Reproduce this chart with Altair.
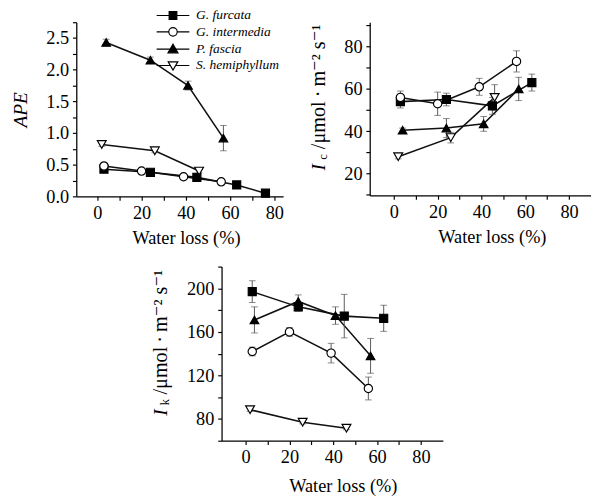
import altair as alt
import pandas as pd

FONT = "'Liberation Serif', 'Times New Roman', Times, 'DejaVu Serif', serif"

species = ["G. furcata", "G. intermedia", "P. fascia", "S. hemiphyllum"]

# Water loss (%) of each sampling point
wl_furcata = [3, 24, 45, 63, 76]
wl_intermedia = [3, 20, 39, 56]
wl_fascia = [4, 24, 41, 57]
wl_hemiphyllum = [2, 26, 46]

# Panel 1: APE
ape_furcata = [0.43, 0.38, 0.30, 0.18, 0.05]
ape_intermedia = [0.48, 0.40, 0.31, 0.23]
ape_fascia = [2.43, 2.15, 1.75, 0.92]
ape_hemiphyllum = [0.82, 0.72, 0.40]
ape_err_furcata = [0.02, 0.02, 0.02, 0.02, 0.02]
ape_err_intermedia = [0.02, 0.02, 0.02, 0.02]
ape_err_fascia = [0.05, 0.05, 0.07, 0.20]
ape_err_hemiphyllum = [0.03, 0.03, 0.03]

# Panel 2: Ic
ic_furcata = [54, 55, 52, 63]
ic_intermedia = [56, 53, 61, 73]
ic_fascia = [40.5, 41.5, 43.5, 60]
ic_hemiphyllum = [28, 37, 56]
ic_err_furcata = [3, 3, 4, 4]
ic_err_intermedia = [3, 5.5, 4, 5]
ic_err_fascia = [1, 4.5, 3.5, 5.5]
ic_err_hemiphyllum = [1, 2.5, 6]

# Panel 3: Ik
ik_furcata = [197, 183, 174.5, 172.5]
ik_intermedia = [142, 160, 140.5, 108]
ik_fascia = [171, 188, 175, 138]
ik_hemiphyllum = [88.5, 77, 71.5]
ik_err_furcata = [10, 4, 20, 12]
ik_err_intermedia = [4, 4, 9, 10.5]
ik_err_fascia = [12, 6, 8, 16]
ik_err_hemiphyllum = [1.5, 1.5, 1.5]

x_ticks = [0, 10, 20, 30, 40, 50, 60, 70, 80]
ape_ticks = [0, 0.25, 0.5, 0.75, 1.0, 1.25, 1.5, 1.75, 2.0, 2.25, 2.5, 2.75]
ic_ticks = [10, 20, 30, 40, 50, 60, 70, 80, 90]
ik_ticks = [60, 80, 100, 120, 140, 160, 180, 200, 220]

x_title = "Water loss (%)"
unit_title = "/\u03bcmol\u2009\u00b7\u2009m\u207b\u00b2 s\u207b\u00b9"


def build(ys, errs):
    xs = [wl_furcata, wl_intermedia, wl_fascia, wl_hemiphyllum]
    rows = []
    for sp, xv, yv, ev in zip(species, xs, ys, errs):
        for i in range(len(yv)):
            rows.append({"species": sp, "x": xv[i], "y": yv[i],
                         "lo": yv[i] - ev[i], "hi": yv[i] + ev[i]})
    return pd.DataFrame(rows)


df_ape = build([ape_furcata, ape_intermedia, ape_fascia, ape_hemiphyllum],
               [ape_err_furcata, ape_err_intermedia, ape_err_fascia, ape_err_hemiphyllum])
df_ic = build([ic_furcata, ic_intermedia, ic_fascia, ic_hemiphyllum],
              [ic_err_furcata, ic_err_intermedia, ic_err_fascia, ic_err_hemiphyllum])
df_ik = build([ik_furcata, ik_intermedia, ik_fascia, ik_hemiphyllum],
              [ik_err_furcata, ik_err_intermedia, ik_err_fascia, ik_err_hemiphyllum])

shape_scale = alt.Scale(domain=species, range=["square", "circle", "triangle-up", "triangle-down"])
fill_scale = alt.Scale(domain=species, range=["black", "white", "black", "white"])
size_scale = alt.Scale(domain=species, range=[70, 85, 130, 110])

legend_paths = [
    "M-4.25,0H-1M1,0H4.25M-1,-1H1V1H-1Z",
    "M-4.25,0H-1.1M1.1,0H4.25M-1.1,0A1.1,1.1,0,1,0,1.1,0A1.1,1.1,0,1,0,-1.1,0Z",
    "M-4.25,0H4.25M-1.3,0.95L1.3,0.95L0,-1.3Z",
    "M-4.25,0H-0.7M0.7,0H4.25M-1.25,-0.95L1.25,-0.95L0,1.2Z",
]


def panel(df, xdom, ydom, yticks, ylabel_expr, title_x, x_title_pad=7, ytitle=None, ytitle_opts=None):
    xsc = alt.Scale(domain=xdom, nice=False, zero=False)
    ysc = alt.Scale(domain=ydom, nice=False, zero=False)
    xaxis = alt.Axis(values=x_ticks, labelExpr="datum.value % 20 == 0 ? datum.label : ''",
                     labelOverlap=False, labelPadding=4,
                     title=x_title, titleX=title_x, titlePadding=x_title_pad)
    yaxis_kw = dict(values=yticks, labelExpr=ylabel_expr, title=ytitle, labelOverlap=False)
    if ytitle_opts:
        yaxis_kw.update(ytitle_opts)
    yaxis = alt.Axis(**yaxis_kw)

    def X():
        return alt.X("x:Q", scale=xsc, axis=xaxis)

    def Y(field):
        return alt.Y(field + ":Q", scale=ysc, axis=yaxis)

    base = alt.Chart(df)
    line = base.mark_line(color="#111111", strokeWidth=1.6).encode(x=X(), y=Y("y"), detail="species:N")
    rule = base.mark_rule(color="#555555", strokeWidth=1).encode(x=X(), y=Y("lo"), y2="hi:Q")
    cap_lo = base.mark_tick(orient="horizontal", size=7, thickness=1, color="#555555").encode(
        x=X(), y=Y("lo"))
    cap_hi = base.mark_tick(orient="horizontal", size=7, thickness=1, color="#555555").encode(
        x=X(), y=Y("hi"))
    pts = base.mark_point(filled=True, stroke="black", strokeWidth=1.2, opacity=1).encode(
        x=X(), y=Y("y"),
        shape=alt.Shape("species:N", scale=shape_scale, legend=None),
        fill=alt.Fill("species:N", scale=fill_scale, legend=None),
        size=alt.Size("species:N", scale=size_scale, legend=None),
    )
    return [line, rule, cap_lo, cap_hi, pts], X, Y


def ytitle_layers(sub, x0, y0, unit_size):
    t_i = alt.Chart(pd.DataFrame({"t": ["I"]})).mark_text(
        font=FONT, fontSize=20, fontStyle="italic", angle=270, align="left", baseline="middle",
        color="black").encode(text="t:N", x=alt.value(x0), y=alt.value(y0))
    t_s = alt.Chart(pd.DataFrame({"t": [sub]})).mark_text(
        font=FONT, fontSize=13, angle=270, align="left", baseline="middle",
        color="black").encode(text="t:N", x=alt.value(x0 + 4), y=alt.value(y0 - 11))
    t_u = alt.Chart(pd.DataFrame({"t": [unit_title]})).mark_text(
        font=FONT, fontSize=unit_size, angle=270, align="left", baseline="middle",
        color="black").encode(text="t:N", x=alt.value(x0), y=alt.value(y0 - 22))
    return [t_i, t_s, t_u]


# Panel A
layersA, XA, YA = panel(df_ape, [-9.5, 84], [0, 2.75], ape_ticks,
                        "datum.value % 0.5 < 0.001 ? format(datum.value, '.1f') : ''", 114,
                        ytitle="APE", ytitle_opts=dict(titleFontStyle="italic", titleFontSize=20, titlePadding=16))
leg = alt.Legend(orient="none", legendX=93.5, legendY=-14, title=None, labelFont=FONT,
                 labelFontStyle="italic", labelFontSize=14, labelColor="black", symbolSize=64,
                 symbolStrokeColor="black", symbolStrokeWidth=1.2, labelOffset=17, rowPadding=3,
                 padding=0, symbolOpacity=1)
legend_layer = alt.Chart(df_ape).transform_filter("false").mark_point(
    filled=False, strokeWidth=1.2, opacity=1).encode(
    x=XA(), y=YA("y"),
    stroke=alt.Stroke("species:N", scale=alt.Scale(domain=species, range=["black"] * 4), legend=leg),
    shape=alt.Shape("species:N", scale=alt.Scale(domain=species, range=legend_paths), legend=leg),
    fill=alt.Fill("species:N", scale=fill_scale, legend=leg),
)
chartA = alt.layer(*layersA, legend_layer).resolve_scale(
    shape="independent", fill="independent", stroke="independent").properties(width=215, height=181)

# Panel B
layersB, _, _ = panel(df_ic, [-11, 90], [9.7, 91.5], ic_ticks,
                      "datum.value % 20 == 0 ? datum.label : ''", 127)
chartB = alt.layer(*layersB, *ytitle_layers("c", -52, 154, 21)).properties(width=230, height=180)

# Panel C
layersC, _, _ = panel(df_ik, [-11, 90], [60, 220], ik_ticks,
                      "datum.value % 40 == 0 ? datum.label : ''", 126, x_title_pad=11)
chartC = alt.layer(*layersC, *ytitle_layers("k", -63, 155, 21)).properties(width=230, height=181)

spacer = alt.Chart(pd.DataFrame({"v": [0]})).mark_point(opacity=0).encode(
    x=alt.value(0), y=alt.value(0)).properties(width=76, height=10)

top = alt.hconcat(chartA, chartB, spacing=25)
bottom = alt.hconcat(spacer, chartC, spacing=0)

chart = alt.vconcat(top, bottom, spacing=11).properties(
    padding={"left": 3, "top": -9, "right": 0, "bottom": 0}
).configure_view(stroke=None).configure_axis(
    labelFont=FONT, labelFontSize=19, titleFont=FONT, titleFontSize=19, titleFontWeight="normal",
    labelColor="black", titleColor="black", domainColor="black", tickColor="black",
    domainWidth=1.3, tickWidth=1.2, tickSize=4, labelPadding=4, grid=False, labelOverlap=False,
)

chart.save("out.html", embed_options={"renderer": "svg", "actions": False})
